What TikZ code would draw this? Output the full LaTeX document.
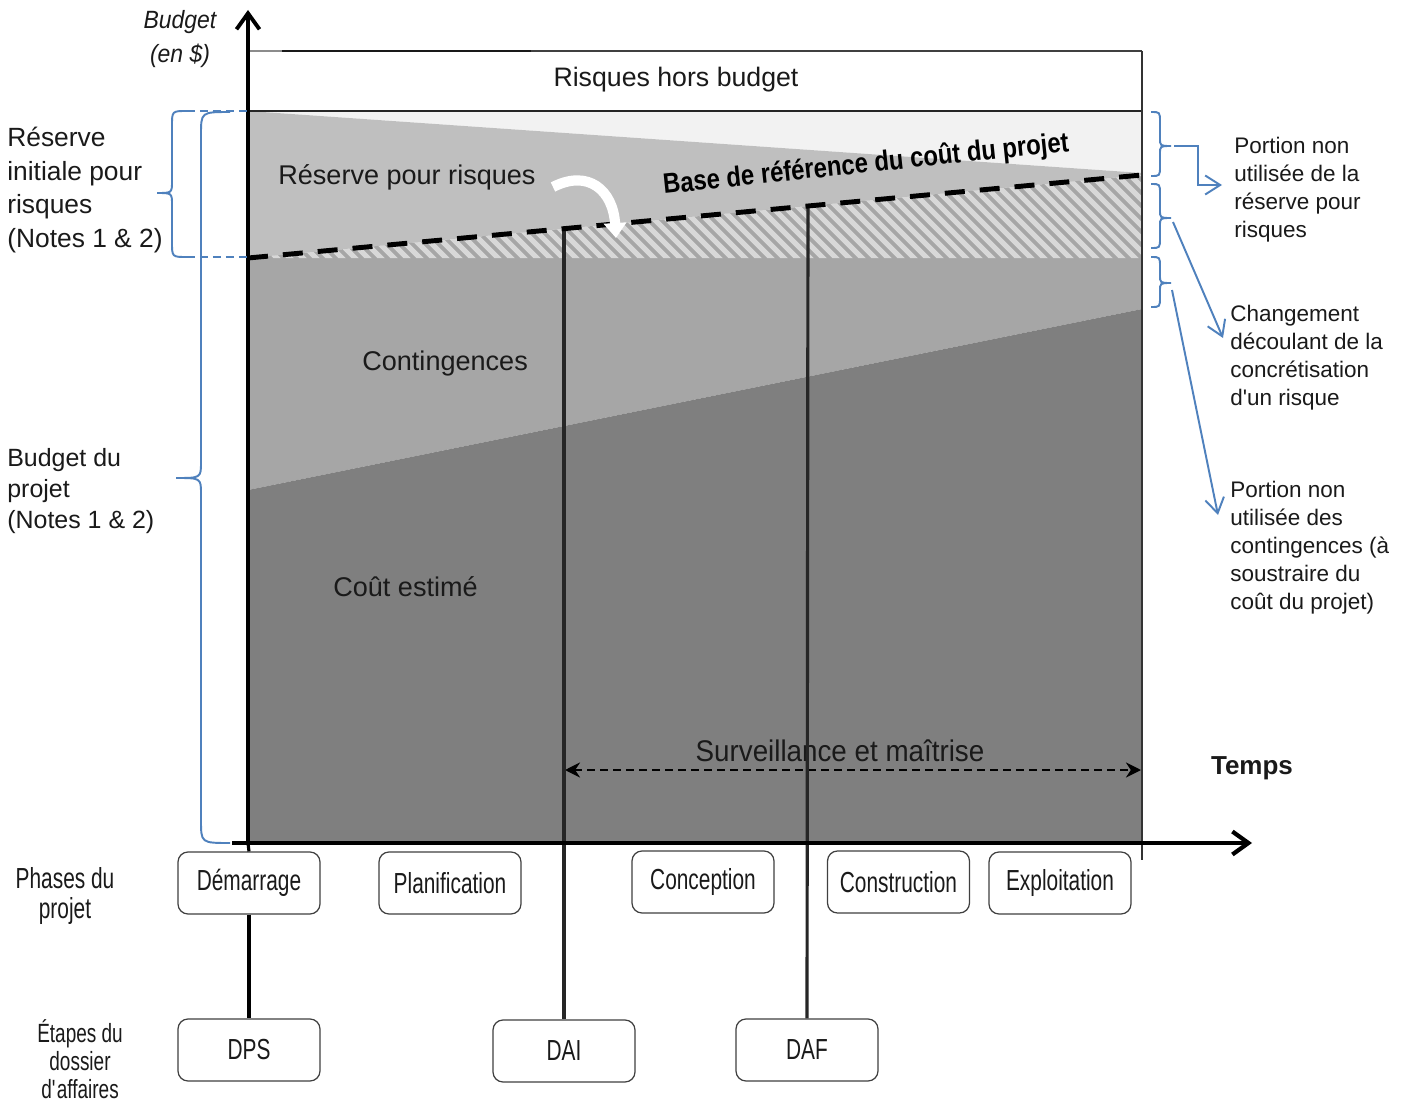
\documentclass[tikz,border=0pt]{standalone}
\usepackage{fontspec}
\setmainfont{Liberation Sans}
\newfontfamily\narrowfont{Liberation Sans}[FakeStretch=0.72]
\newfontfamily\midfont{Liberation Sans}[FakeStretch=0.93]
\newfontfamily\axisfont{Liberation Sans}[FakeStretch=0.92]
\newfontfamily\boldnarrow{Liberation Sans}[FakeStretch=0.85]
\usetikzlibrary{arrows.meta}

\definecolor{lightzone}{HTML}{F2F2F2}
\definecolor{reservezone}{HTML}{BFBFBF}
\definecolor{contzone}{HTML}{A6A6A6}
\definecolor{costzone}{HTML}{7F7F7F}
\definecolor{hatchline}{HTML}{D8D8D8}
\definecolor{bracecol}{HTML}{4F81BD}
\definecolor{inkgray}{HTML}{262626}
\definecolor{textink}{HTML}{1A1A1A}

% curly braces drawn as plain paths: top, middle (tip), bottom
\newcommand\rightcurl[3]{%
  \draw[bracepath] (1151,#1) .. controls (1160,#1) .. (1160,#1+10) -- (1160,#2-8)
    .. controls (1160,#2) .. (1171,#2) .. controls (1160,#2) .. (1160,#2+8)
    -- (1160,#3-10) .. controls (1160,#3) .. (1151,#3);}

\begin{document}
\begin{tikzpicture}[x=0.02cm, y=-0.02cm,
  phasebox/.style={draw=black!75, line width=0.7pt, rounded corners=0.2cm, fill=white,
    minimum width=2.84cm, minimum height=1.24cm, inner sep=0pt, text=textink,
    font=\narrowfont\fontsize{16.5pt}{19pt}\selectfont},
  zonelabel/.style={inner sep=0pt, anchor=west, text=textink,
    font=\fontsize{15.4pt}{18pt}\selectfont},
  note/.style={align=left, inner sep=0pt, anchor=west, text=textink,
    font=\fontsize{12.8pt}{15.9pt}\selectfont},
  bracepath/.style={draw=bracecol, line width=1.1pt},
  bluearrow/.style={draw=bracecol, line width=1.1pt, -{Straight Barb[length=0.3cm,width=0.38cm]}},
  axisline/.style={black, line width=2.2pt, -{Straight Barb[length=0.32cm,width=0.46cm]}},
  milestone/.style={inkgray, line width=1.8pt}
]
\useasboundingbox (0,0) rectangle (1401,1105);
\fill[white] (0,0) rectangle (1401,1105);

% budget zones
\fill[lightzone] (248,111) -- (1142,111) -- (1142,173) -- cycle;
\fill[reservezone] (248,111) -- (1142,173) -- (1142,175) -- (248,258) -- cycle;
\fill[contzone] (248,258) -- (1142,175) -- (1142,309) -- (248,490) -- cycle;
\fill[costzone] (248,490) -- (1142,309) -- (1142,843) -- (248,843) -- cycle;

% hatched band under the cost baseline
\begin{scope}
  \clip (248,258) -- (1142,175) -- (1142,258) -- cycle;
  \foreach \k in {0,...,80}
    \draw[hatchline, line width=3pt] (140+13*\k,160) -- ++(110,110);
\end{scope}

% off-budget risks band
\draw[black!45, line width=0.9pt] (248,51) -- (282,51);
\draw[black!90, line width=1.7pt] (282,51) -- (531,51);
\draw[black!75, line width=1.1pt] (531,51) -- (1142,51);
\draw[black!85, line width=1.2pt] (248,111) -- (1142,111);
\draw[black!80, line width=1.2pt] (1142,51) -- (1142,860);
\node[inner sep=0pt, text=textink, font=\fontsize{15.2pt}{18pt}\selectfont] (offbudget) at (676,80) {Risques hors budget};

% zone labels
\node[zonelabel] (reserve) at (278,177) {Réserve pour risques};
\node[zonelabel] (contingency) at (362,364) {Contingences};
\node[zonelabel] (cost) at (333,587) {Coût estimé};

% monitoring span
\node[inner sep=0pt, text=textink, font=\midfont\fontsize{17pt}{20pt}\selectfont] (surv) at (840,751) {Surveillance et maîtrise};
\coordinate (s0) at (565,770);
\coordinate (s1) at (1141,770);
\draw[black, line width=1.5pt, dash pattern=on 0.16cm off 0.1cm,
  {Stealth[length=0.3cm,width=0.3cm]}-{Stealth[length=0.3cm,width=0.3cm]}] (s0) -- (s1);
\node[inner sep=0pt, text=textink, font=\bfseries\fontsize{14.8pt}{18pt}\selectfont] (time) at (1252,768) {Temps};

% project phases
\node[phasebox] (dem)  at (249,883) {Démarrage};
\node[phasebox] (plan) at (450,883) {Planification};
\node[phasebox] (conc) at (703,882) {Conception};
\node[phasebox] (cons) at (898.5,882) {Construction};
\node[phasebox] (expl) at (1060,883) {Exploitation};

% business case stages
\node[phasebox] (dps) at (249,1050) {DPS};
\node[phasebox] (dai) at (564,1051) {DAI};
\node[phasebox] (daf) at (807,1050) {DAF};

\node[align=center, inner sep=0pt, text=textink, font=\narrowfont\fontsize{16.5pt}{17.6pt}\selectfont] (phaselbl) at (65,896) {Phases du\\projet};
\node[align=center, inner sep=0pt, text=textink, font=\narrowfont\fontsize{15pt}{16pt}\selectfont] (stagelbl) at (80,1059) {Étapes du\\dossier\\d\textquotesingle affaires};

% baseline points and milestone lines
\coordinate (b0) at (248,258);
\coordinate (b1) at (1142,175);
\coordinate (daitop) at (564,228.7);
\coordinate (daftop) at (808,206);
\coordinate (origin) at (248,843);
\draw[milestone] (daitop) -- (dai.north);
\draw[milestone] (daftop) -- (daf.north);
\draw[black, line width=1.8pt] (dem) -- (dps);
\draw[black, line width=1.8pt] (origin) -- (dem.north);

% axes
\coordinate (ytip) at (248,10);
\coordinate (xstart) at (232,843);
\coordinate (xtip) at (1252,843);
\draw[axisline] (origin) -- (ytip);
\draw[axisline, line width=2.4pt] (xstart) -- (xtip);
\node[align=center, inner sep=0pt, text=textink, font=\axisfont\itshape\fontsize{14.2pt}{19.3pt}\selectfont] (ylbl) at (180,39) {Budget\\(en \$)};

% cost baseline
\draw[black, line width=2.8pt, dash pattern=on 0.4cm off 0.3cm] (b0) -- (b1);
\node[inner sep=0pt, rotate=6, text=black, font=\boldnarrow\bfseries\fontsize{16pt}{18pt}\selectfont] (baseline) at (866,165) {Base de référence du coût du projet};

% reserve drawdown arrow
\draw[white, line width=5.8pt, -{Triangle[length=0.3cm,width=0.44cm]}] (553,187) .. controls (588,169) and (613,190) .. (616,238);

% left braces
\draw[bracepath] (187,111) .. controls (172,111) .. (172,126) -- (172,181)
  .. controls (172,193) .. (157,193) .. controls (172,193) .. (172,205)
  -- (172,242) .. controls (172,257) .. (187,257);
\draw[bracepath, dash pattern=on 0.16cm off 0.1cm] (187,111) -- (248,111);
\draw[bracepath, dash pattern=on 0.16cm off 0.1cm] (187,257) -- (248,257);
\draw[bracepath] (230,112) .. controls (201,112) .. (201,135) -- (201,462)
  .. controls (201,478) .. (176,478) .. controls (201,478) .. (201,494)
  -- (201,820) .. controls (201,843) .. (230,843);

\node[align=left, inner sep=0pt, anchor=west, text=textink, font=\fontsize{15pt}{19.3pt}\selectfont] (initres) at (7,190)
  {Réserve\\initiale pour\\risques\\(Notes 1 \& 2)};
\node[align=left, inner sep=0pt, anchor=west, text=textink, font=\fontsize{14.2pt}{17.9pt}\selectfont] (projbudget) at (7,491)
  {Budget du\\projet\\(Notes 1 \& 2)};

% right braces
\rightcurl{112}{146}{176}
\rightcurl{184}{218}{248}
\rightcurl{257}{283}{307}

\node[note] (unusedres) at (1234,190) {Portion non\\utilisée de la\\réserve pour\\risques};
\node[note] (change) at (1230,358) {Changement\\découlant de la\\concrétisation\\d\textquotesingle un risque};
\node[note] (unusedcont) at (1230,548) {Portion non\\utilisée des\\contingences (à\\soustraire du\\coût du projet)};

\coordinate (tipA) at (1174,146);
\coordinate (tipB) at (1173,222);
\coordinate (tipC) at (1172,290);
\coordinate (endA) at (1222,185);
\coordinate (endB) at (1223,338);
\coordinate (endC) at (1218,515);
\draw[bluearrow] (tipA) -| (1198,185) -- (endA);
\draw[bluearrow] (tipB) -- (endB);
\draw[bluearrow] (tipC) -- (endC);
\end{tikzpicture}
\end{document}
